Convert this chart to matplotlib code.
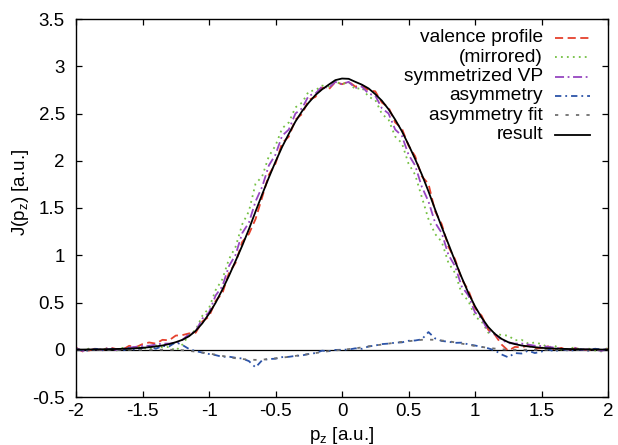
import numpy as np
import matplotlib
matplotlib.use('Agg')
import matplotlib.pyplot as plt

plt.rcParams['font.family'] = ['Liberation Sans', 'DejaVu Sans']
plt.rcParams['mathtext.default'] = 'regular'
plt.rcParams['axes.unicode_minus'] = False

# momentum grid, -2 .. 2 a.u. in 0.05 steps
pz = np.linspace(-2, 2, 81)

vp = [0.022, -0.018, -0.007, 0.014, -0.005, 0.026, 0.008, 0.0, 0.042, 0.026,
      0.06, 0.077, 0.065, 0.105, 0.10, 0.15, 0.155, 0.173, 0.18, 0.30,
      0.35, 0.518, 0.595, 0.812, 0.92, 1.142, 1.225, 1.383, 1.615, 1.852,
      1.97, 2.187, 2.255, 2.435, 2.495, 2.645, 2.675, 2.775, 2.755, 2.833,
      2.81,
      2.837, 2.785, 2.795, 2.745, 2.735, 2.615, 2.565, 2.405, 2.343, 2.16,
      2.048, 1.835, 1.757, 1.465, 1.328, 1.09, 0.958, 0.745, 0.632, 0.44,
      0.36, 0.21, 0.157, 0.055, -0.01, 0.03, 0.025, 0.045, 0.007, 0.02,
      0.036, 0.002, 0.02, -0.012, 0.016, 0.005, -0.006, 0.013, -0.008, 0.012]

# smooth fit of the asymmetry
asym_fit = [0.0] * 16 + [-0.005, -0.012, -0.02, -0.03, -0.04, -0.052, -0.065, -0.078,
                         -0.09, -0.098, -0.105, -0.107, -0.105, -0.098, -0.09, -0.083,
                         -0.075, -0.065, -0.055, -0.045, -0.035, -0.025, -0.015, -0.007] + \
           [0.0] + \
           [0.007, 0.015, 0.025, 0.035, 0.045, 0.055, 0.065, 0.075, 0.083, 0.09,
            0.098, 0.105, 0.107, 0.105, 0.098, 0.09, 0.078, 0.065, 0.052, 0.04,
            0.03, 0.02, 0.012, 0.005] + [0.0] * 16

# final result (symmetrized + asymmetry fit)
result = [0.002, 0.002, 0.003, 0.004, 0.005, 0.006, 0.008, 0.01, 0.012, 0.016,
          0.02, 0.027, 0.035, 0.045, 0.06, 0.08, 0.105, 0.143, 0.20, 0.28,
          0.38, 0.498, 0.635, 0.782, 0.94, 1.102, 1.275, 1.463, 1.645, 1.822,
          1.99, 2.147, 2.285, 2.415, 2.525, 2.615, 2.695, 2.755, 2.805, 2.853,
          2.87,
          2.867, 2.835, 2.805, 2.765, 2.705, 2.635, 2.545, 2.435, 2.313, 2.17,
          2.018, 1.855, 1.677, 1.485, 1.298, 1.12, 0.938, 0.765, 0.602, 0.46,
          0.34, 0.24, 0.167, 0.115, 0.08, 0.06, 0.045, 0.035, 0.027, 0.02,
          0.016, 0.012, 0.01, 0.008, 0.006, 0.005, 0.004, 0.003, 0.002, 0.002]

vp = np.array(vp)
mirrored = vp[::-1]
sym = (vp + mirrored) / 2
asym = vp - sym

labels = ['valence profile', '(mirrored)', 'symmetrized VP', 'asymmetry',
          'asymmetry fit', 'result']
colors = ['#e5412d', '#74c043', '#9646c0', '#2c54a8', '#707070', 'black']
dashes = [(4.5, 2.5), (1, 2.3), (5, 2, 1, 2), (3.5, 2.2, 1, 2.2), (1.8, 4), None]
series = [vp, mirrored, sym, asym, asym_fit, result]

fig = plt.figure(figsize=(6.18, 4.45), dpi=100)
ax = fig.add_axes([76/618, 48/445, 532/618, 378/445])

ax.axhline(0, color='black', lw=0.9, zorder=1)
for i in range(len(series)):
    if dashes[i] is None:
        ax.plot(pz, series[i], color=colors[i], lw=1.3, zorder=3)
    else:
        ax.plot(pz, series[i], color=colors[i], lw=1.3, dashes=dashes[i], zorder=2)

ax.set_xlim(-2, 2)
ax.set_ylim(-0.5, 3.5)
ax.set_xticks(np.arange(-2, 2.01, 0.5))
ax.set_yticks(np.arange(-0.5, 3.51, 0.5))
ax.set_xticklabels(['-2', '-1.5', '-1', '-0.5', '0', '0.5', '1', '1.5', '2'])
ax.set_yticklabels(['-0.5', '0', '0.5', '1', '1.5', '2', '2.5', '3', '3.5'])
ax.tick_params(direction='in', length=4, width=0.9, top=True, right=True,
               labelsize=13.5)
ax.tick_params(axis='x', pad=4)
ax.tick_params(axis='y', pad=8)
for s in ax.spines.values():
    s.set_linewidth(1.0)

ax.set_xlabel('p$_z$ [a.u.]', fontsize=13.5)
ax.set_ylabel('J(p$_z$) [a.u.]', fontsize=13.5)
ax.xaxis.set_label_coords(0.5, -0.103)
ax.xaxis.label.set_va('center')
ax.yaxis.set_label_coords(-0.105, 0.54)
ax.yaxis.label.set_va('center')

# key, drawn by hand like gnuplot's
for i in range(len(labels)):
    yk = 1 - (38 - 19 + 19.3 * i) / 378
    ax.text((543 - 76) / 532, yk, labels[i], transform=ax.transAxes,
            ha='right', va='center', fontsize=13.8)
    kw = dict(color=colors[i], lw=1.3, transform=ax.transAxes)
    if dashes[i] is not None:
        kw['dashes'] = dashes[i]
    ax.plot([(555 - 76) / 532, (590 - 76) / 532], [yk, yk], **kw)

fig.savefig('out.png', dpi=100)
